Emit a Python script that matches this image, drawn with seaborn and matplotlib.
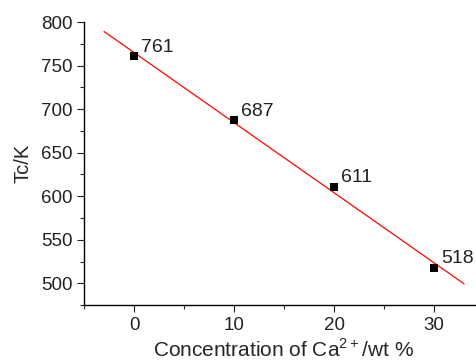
import numpy as np
import pandas as pd
import matplotlib
matplotlib.use("Agg")
import matplotlib.pyplot as plt
from matplotlib.ticker import MultipleLocator
import seaborn as sns

# data
conc = [0, 10, 20, 30]          # Ca2+ wt %
tc = [761, 687, 611, 518]       # Tc / K
labels = ["761", "687", "611", "518"]

sns.set_style("ticks")
plt.rcParams["font.family"] = ["Liberation Sans", "DejaVu Sans"]
plt.rcParams["mathtext.fontset"] = "custom"
plt.rcParams["mathtext.rm"] = "Liberation Sans"

df = pd.DataFrame({"conc": conc, "tc": tc})

# linear fit drawn over -3..33
slope, icpt = np.polyfit(conc, tc, 1)
fit_x = np.array([-3, 33])
fit = pd.DataFrame({"x": fit_x, "y": slope * fit_x + icpt})

fig = plt.figure(figsize=(4.76, 3.61), dpi=100)
ax = fig.add_axes([0.1765, 0.155, 1.017 - 0.1765, 0.784])

sns.lineplot(data=fit, x="x", y="y", color="red", linewidth=0.9, ax=ax)
sns.scatterplot(data=df, x="conc", y="tc", marker="s", s=30, color="black",
                edgecolor="black", linewidth=0, ax=ax, zorder=3)

for x, y, t in zip(conc, tc, labels):
    ax.annotate(t, (x, y), xytext=(5, 3), textcoords="offset points",
                fontsize=14, color="#222222")

ax.set_xlim(-5, 35)
ax.set_ylim(475, 800)
ax.set_xticks([0, 10, 20, 30])
ax.set_yticks([500, 550, 600, 650, 700, 750, 800])
ax.xaxis.set_minor_locator(MultipleLocator(5))
ax.yaxis.set_minor_locator(MultipleLocator(25))
ax.tick_params(which="major", length=5, width=0.8, labelsize=13.5, colors="#222222")
ax.tick_params(which="minor", length=3, width=0.8)
sns.despine(ax=ax)
for s in ["left", "bottom"]:
    ax.spines[s].set_linewidth(1.0)
    ax.spines[s].set_color("black")

ax.set_xlabel("Concentration of Ca$^{2+}$/wt %", fontsize=15, labelpad=3)
ax.set_ylabel("Tc/K", fontsize=14.5, labelpad=6)

fig.savefig("out.png", dpi=100)
